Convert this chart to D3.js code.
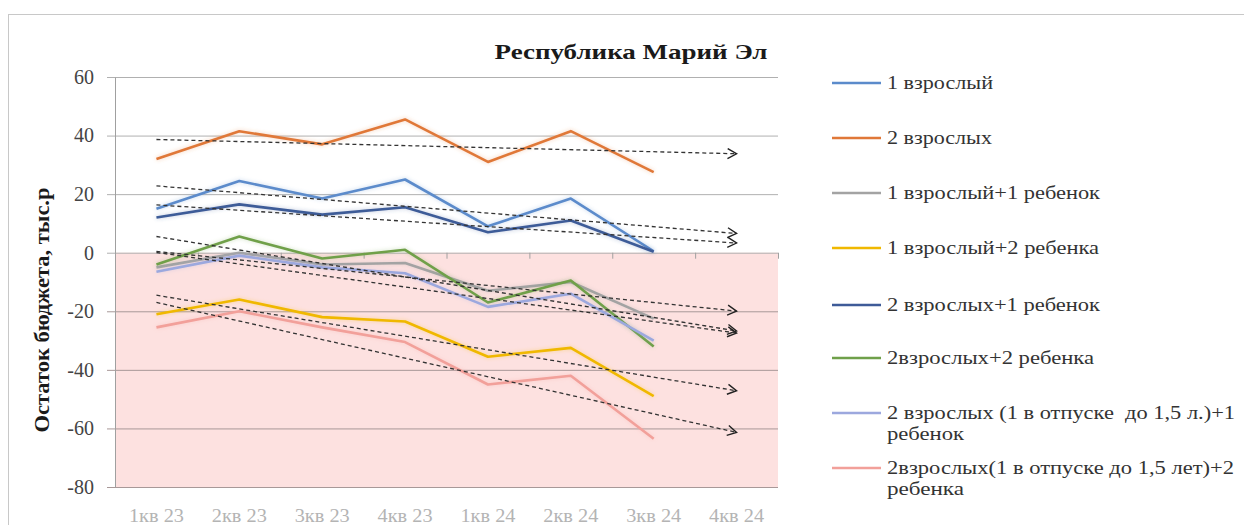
<!DOCTYPE html>
<html>
<head>
<meta charset="utf-8">
<script src="https://cdn.jsdelivr.net/npm/d3@7"></script>
<style>
  body { margin: 0; background: #fff; }
  svg { display: block; }
  svg text { font-family: "Liberation Serif", "Times New Roman", serif; }
</style>
</head>
<body>
<svg id="chart" width="1244" height="525"></svg>
<script>
// ── Data ─────────────────────────────────────────────
const quarters = ["1кв 23", "2кв 23", "3кв 23", "4кв 23", "1кв 24", "2кв 24", "3кв 24", "4кв 24"]
const yTicks   = [-80, -60, -40, -20, 0, 20, 40, 60]

const seriesNames = [
  "1 взрослый",
  "2 взрослых",
  "1 взрослый+1 ребенок",
  "1 взрослый+2 ребенка",
  "2 взрослых+1 ребенок",
  "2взрослых+2 ребенка",
  "2 взрослых (1 в отпуске  до 1,5 л.)+1 ребенок",
  "2взрослых(1 в отпуске до 1,5 лет)+2 ребенка"
]
const oneAdult          = [15, 24.5, 18.5, 25, 9, 18.5, 0.5]
const twoAdults         = [32, 41.5, 37, 45.5, 31, 41.5, 27.5]
const oneAdultOneChild  = [-5, 0, -4, -3.5, -13, -10, -22.5]
const oneAdultTwoChild  = [-21, -16, -22, -23.5, -35.5, -32.5, -49]
const twoAdultsOneChild = [12, 16.5, 13, 15.5, 7, 11, 0.3]
const twoAdultsTwoChild = [-4, 5.5, -2, 1, -17, -9.5, -32]
const leaveOneChild     = [-6.5, -1, -5, -7, -18.5, -14, -30]
const leaveTwoChild     = [-25.5, -20, -25.5, -30.5, -45, -42, -63.5]

const seriesValues = [oneAdult, twoAdults, oneAdultOneChild, oneAdultTwoChild,
                      twoAdultsOneChild, twoAdultsTwoChild, leaveOneChild, leaveTwoChild]
const seriesColors = ["#5b8bcb", "#e07838", "#a3a3a3", "#f0b800",
                      "#3e5b98", "#6fa04a", "#9ca8de", "#f2a09a"]

// legend lines, wrapped like the original, with their drawn widths
const legendLines = [
  ["1 взрослый"], ["2 взрослых"], ["1 взрослый+1 ребенок"], ["1 взрослый+2 ребенка"],
  ["2 взрослых+1 ребенок"], ["2взрослых+2 ребенка"],
  ["2 взрослых (1 в отпуске  до 1,5 л.)+1", "ребенок"],
  ["2взрослых(1 в отпуске до 1,5 лет)+2", "ребенка"]
]
const legendWidths = [[106], [105], [213], [212], [213], [207], [348, 77], [347, 77]]
const legendY = [83, 138, 193, 248, 305, 358, 413, 468]

// ── Layout ───────────────────────────────────────────
const svg = d3.select("#chart")
const plotL = 115, plotR = 778, plotT = 77, plotB = 487

const x = d3.scaleBand().domain(quarters).range([plotL, plotR])
const cx = q => x(q) + x.bandwidth() / 2
const y = d3.scaleLinear().domain([-80, 60]).range([plotB, plotT])

// outer frame
svg.append("rect")
  .attr("x", 8.5).attr("y", 14.5).attr("width", 1260).attr("height", 540)
  .attr("fill", "none").attr("stroke", "#c8c8c8")

// defs: glow + arrow
const defs = svg.append("defs")
const glow = defs.append("filter").attr("id", "glow")
  .attr("x", "-10%").attr("y", "-50%").attr("width", "120%").attr("height", "200%")
glow.append("feGaussianBlur").attr("in", "SourceGraphic").attr("stdDeviation", 2.2).attr("result", "b")
glow.append("feComponentTransfer").attr("in", "b").attr("result", "bb")
  .append("feFuncA").attr("type", "linear").attr("slope", 0.35)
const gm = glow.append("feMerge")
gm.append("feMergeNode").attr("in", "bb")
gm.append("feMergeNode").attr("in", "SourceGraphic")

defs.append("marker").attr("id", "arrow")
  .attr("viewBox", "0 0 12 12").attr("refX", 10).attr("refY", 6)
  .attr("markerWidth", 12).attr("markerHeight", 12)
  .attr("markerUnits", "userSpaceOnUse").attr("orient", "auto")
  .append("path").attr("d", "M1,1 L10,6 L1,11")
  .attr("fill", "none").attr("stroke", "#222").attr("stroke-width", 1.4)

// pink negative zone
svg.append("rect")
  .attr("x", plotL).attr("y", y(0))
  .attr("width", plotR - plotL).attr("height", y(-80) - y(0))
  .attr("fill", "#fde1e0")

// gridlines
svg.append("g").selectAll("line").data(yTicks).join("line")
  .attr("x1", plotL - 8).attr("x2", plotR)
  .attr("y1", d => y(d) + 0.5).attr("y2", d => y(d) + 0.5)
  .attr("stroke", d => d < 0 ? "#a89898" : "#b0b0b0").attr("stroke-width", 1)

// y axis
const yAxis = svg.append("g").attr("transform", `translate(${plotL},0)`)
  .call(d3.axisLeft(y).tickValues(yTicks).tickSize(0).tickPadding(21).tickFormat(d => String(d)))
  .attr("font-family", null).attr("font-size", null)
yAxis.select(".domain").attr("stroke", "#a0a0a0")
yAxis.selectAll("text")
  .style("font-size", "20px").attr("fill", "#444")

// category boundary ticks on the zero line
svg.append("g").selectAll("line").data(quarters.map(q => x(q)).concat([plotR])).join("line")
  .attr("x1", d => d + 0.5).attr("x2", d => d + 0.5)
  .attr("y1", y(0)).attr("y2", y(0) + 6)
  .attr("stroke", "#a0a0a0")

// category labels
svg.append("g").selectAll("text").data(quarters).join("text")
  .attr("x", d => cx(d)).attr("y", 522)
  .attr("text-anchor", "middle")
  .attr("textLength", 55).attr("lengthAdjust", "spacingAndGlyphs")
  .style("font-size", "19px").attr("fill", "#b4b4b4")
  .text(d => d)

// titles
svg.append("text")
  .attr("x", 631).attr("y", 59).attr("text-anchor", "middle")
  .attr("textLength", 273).attr("lengthAdjust", "spacingAndGlyphs")
  .style("font-size", "22px").attr("font-weight", "bold").attr("fill", "#1a1a1a")
  .text("Республика Марий Эл")

svg.append("text")
  .attr("transform", "translate(49,310) rotate(-90)")
  .attr("text-anchor", "middle")
  .attr("textLength", 245).attr("lengthAdjust", "spacingAndGlyphs")
  .style("font-size", "20px").attr("font-weight", "bold").attr("fill", "#1a1a1a")
  .text("Остаток бюджета, тыс.р")

// ── Series lines ─────────────────────────────────────
const line = d3.line().x((d, i) => cx(quarters[i])).y(d => y(d))

svg.append("g").selectAll("path").data(seriesValues).join("path")
  .attr("d", d => line(d))
  .attr("fill", "none")
  .attr("stroke", (d, i) => seriesColors[i])
  .attr("stroke-width", 2.6)
  .attr("stroke-linejoin", "round")
  .attr("filter", "url(#glow)")

// ── Linear trendlines, forecast one period ahead ─────
function trend(vals) {
  const n = vals.length
  const mx = d3.mean(vals, (v, i) => i), my = d3.mean(vals)
  const slope = d3.sum(vals, (v, i) => (i - mx) * (v - my)) / d3.sum(vals, (v, i) => (i - mx) ** 2)
  const b = my - slope * mx
  return [[0, b], [n, b + slope * n]]
}
svg.append("g").selectAll("line").data(seriesValues.map(trend)).join("line")
  .attr("x1", d => cx(quarters[d[0][0]])).attr("y1", d => y(d[0][1]))
  .attr("x2", d => cx(quarters[d[1][0]])).attr("y2", d => y(d[1][1]))
  .attr("stroke", "#333").attr("stroke-width", 1.3)
  .attr("stroke-dasharray", "4,3")
  .attr("marker-end", "url(#arrow)")

// ── Legend ───────────────────────────────────────────
const lg = svg.append("g").selectAll("g").data(legendLines).join("g")
  .attr("transform", (d, i) => `translate(0,${legendY[i]})`)
lg.append("line")
  .attr("x1", 832).attr("x2", 881).attr("y1", 0).attr("y2", 0)
  .attr("stroke", (d, i) => seriesColors[i]).attr("stroke-width", 2.6)
lg.each(function (rows, i) {
  d3.select(this).selectAll("text").data(rows).join("text")
    .attr("x", 887).attr("y", (d, j) => 6 + j * 21)
    .attr("textLength", (d, j) => legendWidths[i][j]).attr("lengthAdjust", "spacingAndGlyphs")
    .style("font-size", "19px").style("white-space", "pre").attr("fill", "#333")
    .text(d => d)
})
</script>
</body>
</html>
